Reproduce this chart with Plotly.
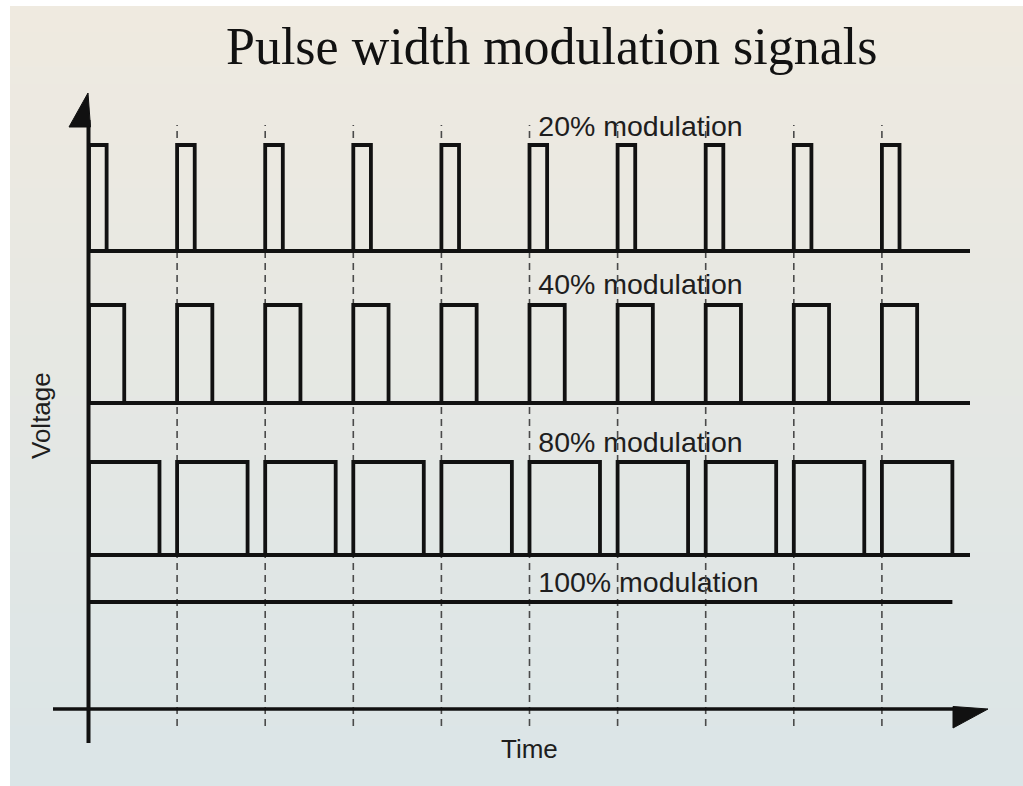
import plotly.graph_objects as go

# ---------------- data ----------------
duty_cycles = [20, 40, 80, 100]                      # percent modulation
labels = ["20% modulation", "40% modulation", "80% modulation", "100% modulation"]
n_periods = 10
period_marks = [1, 2, 3, 4, 5, 6, 7, 8, 9]           # dashed period boundaries
signal_end = [10, 10, 10, 9.8]                       # where each drawn trace stops (periods)
title_text = "Pulse width modulation signals"
x_label = "Time"
y_label = "Voltage"

# ---------------- layout constants (pixels) ----------------
W, H = 1023, 786
X0_PX, PERIOD_PX = 89.0, 88.1
LANE_LOW = [251, 403, 555, 700]
LANE_HIGH = [145, 305, 462, 602]
LABEL_T = 5.1
LABEL_Y = [129, 287, 445, 585]
DASH_TOP, DASH_BOTTOM = 125, 726
INK = "#111111"
TEXT = "#1e1e1e"
LW = 3.8


def px_x(px):
    return px / W


def px_y(py):
    return 1 - py / H


fig = go.Figure()

# labels (drawn first so dashed lines pass over them)
for lab, ly in zip(labels, LABEL_Y):
    fig.add_trace(go.Scatter(
        x=[LABEL_T], y=[ly], mode="text", text=[lab], textposition="middle right",
        textfont=dict(family="Liberation Sans, Arial, sans-serif", size=28.5, color=TEXT),
        showlegend=False, hoverinfo="skip"))

# dashed period markers
dx, dy = [], []
for m in period_marks:
    dx += [m, m, None]
    dy += [DASH_BOTTOM, DASH_TOP, None]
fig.add_trace(go.Scatter(x=dx, y=dy, mode="lines",
                         line=dict(color="#4a4a4a", width=1.6, dash="7px,5px"),
                         showlegend=False, hoverinfo="skip"))

# PWM signals: continuous baseline plus a box for each pulse
for d, end, lo, hi in zip(duty_cycles, signal_end, LANE_LOW, LANE_HIGH):
    frac = d / 100.0
    if frac >= 1:
        xs, ys = [0, end], [hi, hi]
    else:
        xs, ys = [0, end, None], [lo, lo, None]
        for k in range(n_periods):
            xs += [k, k, k + frac, k + frac, None]
            ys += [lo, hi, hi, lo, None]
    fig.add_trace(go.Scatter(x=xs, y=ys, mode="lines", connectgaps=False,
                             line=dict(color=INK, width=LW),
                             showlegend=False, hoverinfo="skip"))

shapes = []
# background gradient
top_c = (239, 234, 224)
bot_c = (219, 229, 231)
n_bands = 90
y_top, y_bot = 6, 786
for i in range(n_bands):
    f = i / (n_bands - 1)
    c = tuple(round(top_c[j] + (bot_c[j] - top_c[j]) * f) for j in range(3))
    ya = y_top + (y_bot - y_top) * i / n_bands
    yb = y_top + (y_bot - y_top) * (i + 1) / n_bands + 0.6
    shapes.append(dict(type="rect", xref="paper", yref="y", x0=px_x(10), x1=1,
                       y0=ya, y1=yb, fillcolor="rgb(%d,%d,%d)" % c,
                       line=dict(width=0), layer="below"))

# axes
shapes.append(dict(type="line", xref="paper", yref="y", x0=px_x(88.5), x1=px_x(88.5),
                   y0=120, y1=743, line=dict(color=INK, width=4), layer="above"))
shapes.append(dict(type="line", xref="paper", yref="y", x0=px_x(53), x1=px_x(960),
                   y0=709, y1=709, line=dict(color=INK, width=3.6), layer="above"))
# arrow heads
shapes.append(dict(type="path", xref="paper", yref="paper",
                   path="M %f %f L %f %f L %f %f Z" % (px_x(88), px_y(93), px_x(69), px_y(127), px_x(90.5), px_y(127)),
                   fillcolor=INK, line=dict(color=INK, width=1), layer="above"))
shapes.append(dict(type="path", xref="paper", yref="paper",
                   path="M %f %f L %f %f L %f %f Z" % (px_x(953), px_y(706.5), px_x(988), px_y(709), px_x(953), px_y(728)),
                   fillcolor=INK, line=dict(color=INK, width=1), layer="above"))

annotations = [
    dict(text=title_text, xref="paper", yref="paper", x=px_x(551.5), y=px_y(46),
         xanchor="center", yanchor="middle", showarrow=False,
         font=dict(family="Liberation Serif, Times New Roman, serif", size=52, color="#111111")),
    dict(text=y_label, xref="paper", yref="paper", x=px_x(41), y=px_y(416),
         xanchor="center", yanchor="middle", showarrow=False, textangle=-90,
         font=dict(family="Liberation Sans Narrow, Arial Narrow, Liberation Sans, sans-serif", size=26, color=TEXT)),
    dict(text=x_label, xref="paper", yref="paper", x=px_x(529), y=px_y(749),
         xanchor="center", yanchor="middle", showarrow=False,
         font=dict(family="Liberation Sans Narrow, Arial Narrow, Liberation Sans, sans-serif", size=26, color=TEXT)),
]

x_range = [-X0_PX / PERIOD_PX, (W - X0_PX) / PERIOD_PX]
fig.update_layout(
    width=W, height=H, margin=dict(l=0, r=0, t=0, b=0, pad=0),
    paper_bgcolor="white", plot_bgcolor="rgba(0,0,0,0)",
    xaxis=dict(range=x_range, visible=False, fixedrange=True),
    yaxis=dict(range=[H, 0], visible=False, fixedrange=True),
    shapes=shapes, annotations=annotations, showlegend=False,
)

fig.write_html("out.html", config={"displayModeBar": False},
               post_script="document.body.style.margin='0';document.body.style.overflow='hidden';")
